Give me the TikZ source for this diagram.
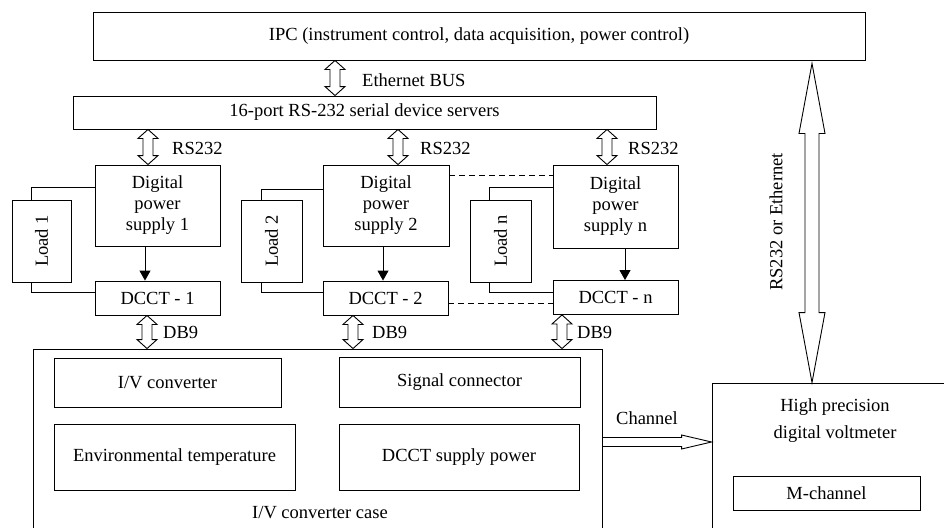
\documentclass[tikz,border=0pt]{standalone}
\usepackage{fontspec}
\setmainfont{Liberation Serif}
\usetikzlibrary{calc,arrows.meta}
\tikzset{
  box/.style={draw, line width=0.9pt, inner sep=0pt, align=center},
  lbl/.style={inner sep=0pt, align=center},
  dblarrow/.style n args={3}{line width=0.9pt, to path={
    -- ($(\tikztostart)!#3!(\tikztotarget)!#2!90:(\tikztotarget)$)
    -- ($(\tikztostart)!#3!(\tikztotarget)!#1!90:(\tikztotarget)$)
    -- ($(\tikztotarget)!#3!(\tikztostart)!#1!-90:(\tikztostart)$)
    -- ($(\tikztotarget)!#3!(\tikztostart)!#2!-90:(\tikztostart)$)
    -- (\tikztotarget)
    -- ($(\tikztotarget)!#3!(\tikztostart)!#2!90:(\tikztostart)$)
    -- ($(\tikztotarget)!#3!(\tikztostart)!#1!90:(\tikztostart)$)
    -- ($(\tikztostart)!#3!(\tikztotarget)!#1!-90:(\tikztotarget)$)
    -- ($(\tikztostart)!#3!(\tikztotarget)!#2!-90:(\tikztotarget)$)
    -- cycle}},
  sglarrow/.style n args={3}{line width=0.9pt, to path={
    -- ($(\tikztostart)!#1!90:(\tikztotarget)$)
    -- ($(\tikztotarget)!#3!(\tikztostart)!#1!-90:(\tikztostart)$)
    -- ($(\tikztotarget)!#3!(\tikztostart)!#2!-90:(\tikztostart)$)
    -- (\tikztotarget)
    -- ($(\tikztotarget)!#3!(\tikztostart)!#2!90:(\tikztostart)$)
    -- ($(\tikztotarget)!#3!(\tikztostart)!#1!90:(\tikztostart)$)
    -- ($(\tikztostart)!#1!-90:(\tikztotarget)$)
    -- cycle}},
  small/.style={dblarrow={5pt}{10pt}{9pt}},
  down/.style={line width=0.9pt, -{Triangle[length=10pt,width=11pt]}},
  wire/.style={line width=0.9pt},
  dashwire/.style={line width=0.9pt, dash pattern=on 6pt off 4pt},
}
\begin{document}
\begin{tikzpicture}[x=1pt,y=-1pt,font=\fontsize{18.5}{21}\selectfont]
\useasboundingbox (0,0) rectangle (944,527);
\clip (0,0) rectangle (944,527);
\fill[white] (0,0) rectangle (944,527);

% main boxes
\node[box, minimum width=772pt, minimum height=48pt] (ipc) at (479,36) {IPC (instrument control, data acquisition, power control)};
\node[box, minimum width=583pt, minimum height=33pt] (ser) at (364.5,112.5) {16-port RS-232 serial device servers};

\node[box, minimum width=125pt, minimum height=81pt] (p1) at (157.5,205.5) {Digital\\power\\supply 1};
\node[box, minimum width=126pt, minimum height=81pt] (p2) at (386,205.5) {Digital\\power\\supply 2};
\node[box, minimum width=125pt, minimum height=83pt] (pn) at (615.5,206.5) {Digital\\power\\supply n};

\node[box, minimum width=59pt, minimum height=82pt] (l1) at (41.5,241) {\rotatebox{90}{Load 1}};
\node[box, minimum width=61pt, minimum height=82pt] (l2) at (271.5,241) {\rotatebox{90}{Load 2}};
\node[box, minimum width=61pt, minimum height=82pt] (ln) at (500.5,241) {\rotatebox{90}{Load n}};

\node[box, minimum width=125pt, minimum height=34pt] (d1) at (157.5,298) {DCCT - 1};
\node[box, minimum width=125pt, minimum height=34pt] (d2) at (385.5,298) {DCCT - 2};
\node[box, minimum width=125pt, minimum height=34pt] (dn) at (615.5,297.5) {DCCT - n};

\node[box, minimum width=569pt, minimum height=195pt] (case) at (317.5,446.5) {};
\node[box, minimum width=227pt, minimum height=49pt] (ivc) at (167.5,382.5) {I/V converter};
\node[box, minimum width=241pt, minimum height=66pt] (env) at (174.5,457) {Environmental temperature};
\node[box, minimum width=241pt, minimum height=50pt] (sig) at (459.5,382) {Signal connector};
\node[box, minimum width=240pt, minimum height=66pt] (dsp) at (459,457) {DCCT supply power};
\node[lbl] (casel) at (320,513) {I/V converter case};

\node[box, minimum width=253pt, minimum height=165pt] (vm) at (838.5,465.5) {};
\node[lbl, font=\fontsize{18.5}{27}\selectfont] (vmt) at (835,421) {High precision\\digital voltmeter};
\node[box, minimum width=187pt, minimum height=34pt] (mch) at (826.5,493) {M-channel};

% x positions of the buses
\coordinate (xE) at (335,0);
\coordinate (xR1) at (148,0);
\coordinate (xR2) at (398,0);
\coordinate (xR3) at (607,0);
\coordinate (xD1) at (147,0);
\coordinate (xD2) at (353,0);
\coordinate (xD3) at (562,0);
\coordinate (xA1) at (145,0);
\coordinate (xA2) at (383,0);
\coordinate (xA3) at (625,0);
\coordinate (xB) at (812,0);
\coordinate (yC) at (0,442);

% block arrows
\draw[small] (ipc.south -| xE) to (ser.north -| xE);
\draw[small] (ser.south -| xR1) to (p1.north -| xR1);
\draw[small] (ser.south -| xR2) to (p2.north -| xR2);
\draw[small] (ser.south -| xR3) to (pn.north -| xR3);
\draw[small] (d1.south -| xD1) to (case.north -| xD1);
\draw[small] (d2.south -| xD2) to (case.north -| xD2);
\draw[small] (dn.south -| xD3) to (case.north -| xD3);
\draw[dblarrow={7pt}{13pt}{70pt}] ([yshift=-3pt]ipc.south -| xB) to (vm.north -| xB);
\draw[sglarrow={4.5pt}{7pt}{30pt}] (case.east |- yC) to (vm.west |- yC);

% labels
\node[lbl, anchor=west] (leth) at (362,80) {Ethernet BUS};
\node[lbl, anchor=west] (lr1) at (172,148) {RS232};
\node[lbl, anchor=west] (lr2) at (420,148) {RS232};
\node[lbl, anchor=west] (lr3) at (628,148) {RS232};
\node[lbl, anchor=west] (ld1) at (163,332) {DB9};
\node[lbl, anchor=west] (ld2) at (372,332) {DB9};
\node[lbl, anchor=west] (ld3) at (577,332) {DB9};
\node[lbl] (lch) at (647,418) {Channel};
\node[lbl, rotate=90] (lrs) at (776,222) {RS232 or Ethernet};

% power supply to DCCT
\draw[down] (p1.south -| xA1) -- (d1.north -| xA1);
\draw[down] (p2.south -| xA2) -- (d2.north -| xA2);
\draw[down] (pn.south -| xA3) -- (dn.north -| xA3);

% load wiring
\draw[wire] ([xshift=20pt]l1.north west) |- ([yshift=-23pt]p1.north west);
\draw[wire] ([xshift=21pt]l2.north west) |- ([yshift=-25pt]p2.north west);
\draw[wire] ([xshift=20pt]ln.north west) |- ([yshift=-23pt]pn.north west);
\draw[wire] ([xshift=20pt]l1.south west) |- ([yshift=-12pt]d1.north west);
\draw[wire] ([xshift=21pt]l2.south west) |- ([yshift=-12pt]d2.north west);
\draw[wire] ([xshift=20pt]ln.south west) |- ([yshift=-12pt]dn.north west);

% dashed links
\draw[dashwire] ([yshift=-11pt]p2.north east) -- ([yshift=-11pt]p2.north east -| pn.west);
\draw[dashwire] ([yshift=-5pt]d2.east) -- ([yshift=-5pt]d2.east -| dn.west);
\end{tikzpicture}
\end{document}
